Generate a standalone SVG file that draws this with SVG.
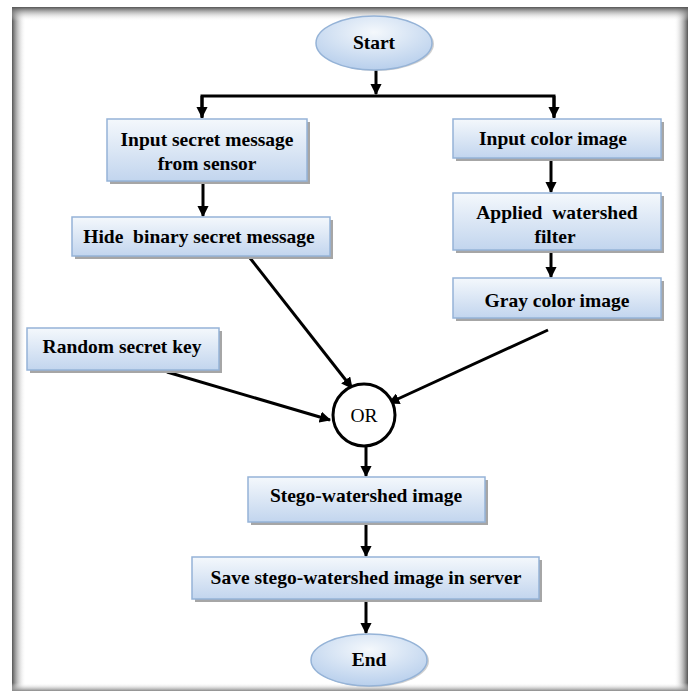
<svg xmlns="http://www.w3.org/2000/svg" width="691" height="693" viewBox="0 0 691 693">
<style>
.box{fill:url(#bg);stroke:#95b3d7;stroke-width:1.5}
.sh{fill:#a6a6a6}
.t{font-family:"Liberation Serif","Times New Roman",serif;font-weight:bold;font-size:19.5px;fill:#000;text-anchor:middle}
.c{fill:none;stroke:#000;stroke-width:3}
</style>
<defs>
<linearGradient id="bg" x1="0" y1="0" x2="0" y2="1">
<stop offset="0" stop-color="#f4f8fc"/>
<stop offset="1" stop-color="#c2d5ee"/>
</linearGradient>
<radialGradient id="eg" cx="0.5" cy="0.3" r="0.7">
<stop offset="0" stop-color="#f4f8fc"/>
<stop offset="1" stop-color="#b8cfec"/>
</radialGradient>
<linearGradient id="fl" x1="0" y1="0" x2="1" y2="0"><stop offset="0" stop-color="#555"/><stop offset="1" stop-color="#fff" stop-opacity="0"/></linearGradient>
<linearGradient id="fr" x1="1" y1="0" x2="0" y2="0"><stop offset="0" stop-color="#555"/><stop offset="1" stop-color="#fff" stop-opacity="0"/></linearGradient>
<linearGradient id="ft" x1="0" y1="0" x2="0" y2="1"><stop offset="0" stop-color="#555"/><stop offset="1" stop-color="#fff" stop-opacity="0"/></linearGradient>
<linearGradient id="fb" x1="0" y1="1" x2="0" y2="0"><stop offset="0" stop-color="#888"/><stop offset="1" stop-color="#fff" stop-opacity="0"/></linearGradient>
<marker id="ah" viewBox="0 0 10 10" refX="9" refY="5" markerWidth="3.8" markerHeight="3.8" markerUnits="strokeWidth" orient="auto">
<path d="M0,0 L10,5 L0,10 Z" fill="#000"/>
</marker>
</defs>
<rect x="0" y="0" width="691" height="693" fill="#fff"/>
<g id="frame">
<rect x="12" y="7" width="14" height="684" fill="url(#fl)"/>
<rect x="674" y="7" width="14" height="684" fill="url(#fr)"/>
<rect x="12" y="7" width="676" height="14" fill="url(#ft)"/>
<rect x="12" y="683" width="676" height="8" fill="url(#fb)"/>
</g>
<g id="connectors">
<path class="c" d="M376,70 V94" marker-end="url(#ah)"/>
<path class="c" d="M202,118 V96 H554 V118"/>
<path class="c" d="M202,96 V117" marker-end="url(#ah)"/>
<path class="c" d="M554,96 V117" marker-end="url(#ah)"/>
<path class="c" d="M203,182 V216" marker-end="url(#ah)"/>
<path class="c" d="M551,158 V192" marker-end="url(#ah)"/>
<path class="c" d="M551,250 V277" marker-end="url(#ah)"/>
<path class="c" d="M250,258 L352,388" marker-end="url(#ah)"/>
<path class="c" d="M548,330 L389,403" marker-end="url(#ah)"/>
<path class="c" d="M167,372 L330,420" marker-end="url(#ah)"/>
<path class="c" d="M366,447 V476" marker-end="url(#ah)"/>
<path class="c" d="M366,522 V556" marker-end="url(#ah)"/>
<path class="c" d="M366,600 V633" marker-end="url(#ah)"/>
</g>
<g id="start">
<ellipse cx="376" cy="44" rx="58" ry="27" fill="#b0b0b0" opacity="0.6"/>
<ellipse cx="374" cy="43" rx="58" ry="27" fill="url(#eg)" stroke="#95b3d7" stroke-width="1.5"/>
<text class="t" x="374" y="49">Start</text>
</g>
<g id="input-secret">
<rect class="sh" x="110" y="122" width="200" height="62"/>
<rect class="box" x="107" y="119" width="200" height="62"/>
<text class="t" x="207" y="146">Input secret message</text>
<text class="t" x="207" y="170">from sensor</text>
</g>
<g id="hide-binary">
<rect class="sh" x="75" y="220" width="258" height="39"/>
<rect class="box" x="72" y="217" width="258" height="39"/>
<text class="t" x="199" y="243" xml:space="preserve">Hide  binary secret message</text>
</g>
<g id="input-color">
<rect class="sh" x="456" y="122" width="208" height="39"/>
<rect class="box" x="453" y="119" width="208" height="39"/>
<text class="t" x="553" y="145">Input color image</text>
</g>
<g id="applied-watershed">
<rect class="sh" x="456" y="196" width="208" height="57"/>
<rect class="box" x="453" y="193" width="208" height="57"/>
<text class="t" x="557" y="219" xml:space="preserve">Applied  watershed</text>
<text class="t" x="555" y="243">filter</text>
</g>
<g id="gray-color">
<rect class="sh" x="456" y="281" width="208" height="40"/>
<rect class="box" x="453" y="278" width="208" height="40"/>
<text class="t" x="557" y="307">Gray color image</text>
</g>
<g id="random-key">
<rect class="sh" x="30" y="331" width="192" height="42"/>
<rect class="box" x="27" y="328" width="192" height="42"/>
<text class="t" x="122" y="353">Random secret key</text>
</g>
<g id="or">
<circle cx="364" cy="415" r="31" fill="#fff" stroke="#000" stroke-width="3"/>
<text x="364" y="422" font-family="Liberation Serif, Times New Roman, serif" font-size="19.5" text-anchor="middle">OR</text>
</g>
<g id="stego">
<rect class="sh" x="251" y="480" width="237" height="45"/>
<rect class="box" x="248" y="477" width="237" height="45"/>
<text class="t" x="366" y="502">Stego-watershed image</text>
</g>
<g id="save">
<rect class="sh" x="195" y="560" width="347" height="42"/>
<rect class="box" x="192" y="557" width="347" height="42"/>
<text class="t" x="366" y="584">Save stego-watershed image in server</text>
</g>
<g id="end">
<ellipse cx="371" cy="661" rx="58" ry="26" fill="#b0b0b0" opacity="0.6"/>
<ellipse cx="369" cy="660" rx="58" ry="26" fill="url(#eg)" stroke="#95b3d7" stroke-width="1.5"/>
<text class="t" x="369" y="666">End</text>
</g>
</svg>
